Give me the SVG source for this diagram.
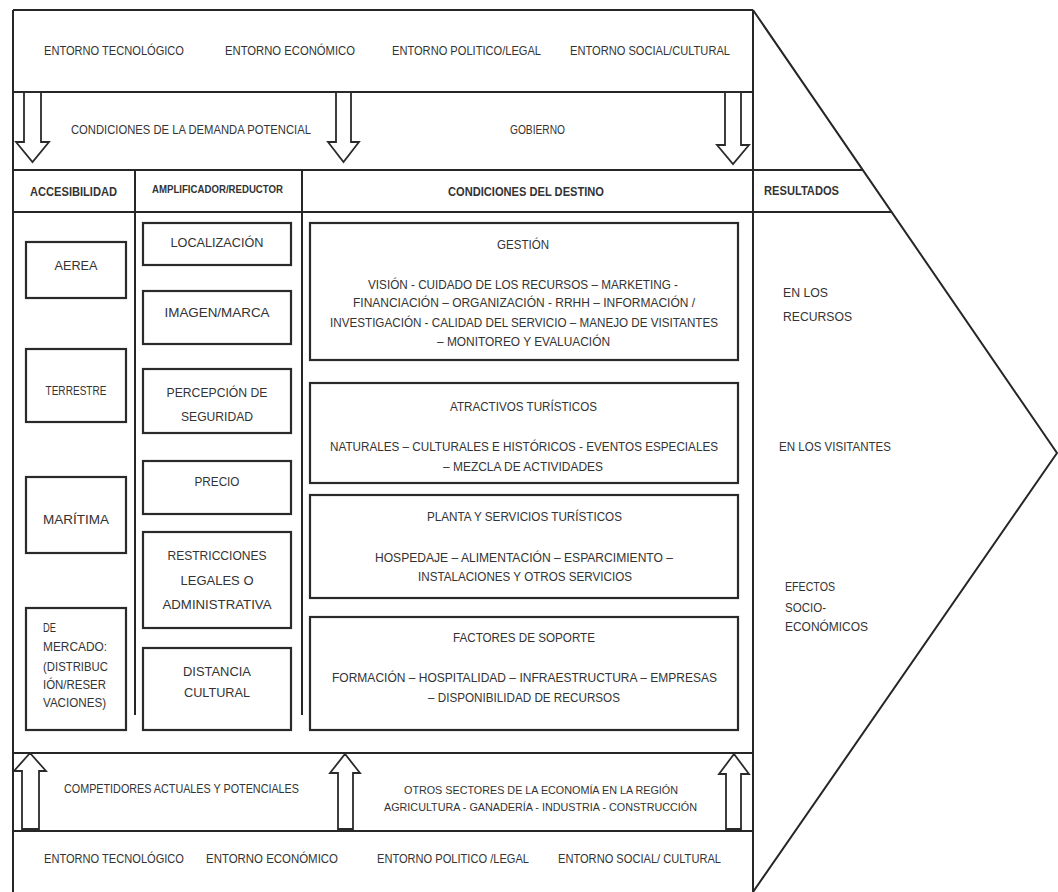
<svg xmlns="http://www.w3.org/2000/svg" width="1058" height="892" viewBox="0 0 1058 892">
<style>
.ln{stroke:#262626;stroke-width:2;fill:none}
.bx{stroke:#2a2a2a;stroke-width:2.2;fill:#fff}
.ar{stroke:#2a2a2a;stroke-width:1.8;fill:#fff;stroke-linejoin:miter}
text{font-family:"Liberation Sans",Arial,sans-serif;fill:#333}
.t12{font-size:12.5px}
.t13{font-size:13.5px}
.t11{font-size:12px}
.t10{font-size:10.5px}
.b{font-weight:bold}
.m{text-anchor:middle}
</style>
<rect x="0" y="0" width="1058" height="892" fill="#fff"/>
<g id="frame">
<polyline class="ln" points="753,10 1057,453 753,892"/>
<line class="ln" x1="13" y1="10" x2="753" y2="10"/>
<line class="ln" x1="13" y1="10" x2="13" y2="892"/>
<line class="ln" x1="753" y1="10" x2="753" y2="892"/>
<line class="ln" x1="13" y1="92" x2="753" y2="92"/>
<line class="ln" x1="13" y1="170" x2="863" y2="170"/>
<line class="ln" x1="13" y1="212" x2="891" y2="212"/>
<line class="ln" x1="13" y1="753" x2="753" y2="753"/>
<line class="ln" x1="13" y1="831" x2="753" y2="831"/>
<line class="ln" x1="135" y1="170" x2="135" y2="715"/>
<line class="ln" x1="302" y1="170" x2="302" y2="715"/>
</g>
<g id="entorno-top">
<text class="t12" x="44" y="55" textLength="140" lengthAdjust="spacingAndGlyphs">ENTORNO TECNOLÓGICO</text>
<text class="t12" x="225" y="55" textLength="130" lengthAdjust="spacingAndGlyphs">ENTORNO ECONÓMICO</text>
<text class="t12" x="392" y="55" textLength="149" lengthAdjust="spacingAndGlyphs">ENTORNO POLITICO/LEGAL</text>
<text class="t12" x="570" y="55" textLength="160" lengthAdjust="spacingAndGlyphs">ENTORNO SOCIAL/CULTURAL</text>
</g>
<g id="demanda">
<text class="t12" x="71" y="134" textLength="240" lengthAdjust="spacingAndGlyphs">CONDICIONES DE LA DEMANDA POTENCIAL</text>
<text class="t12" x="510" y="134" textLength="55" lengthAdjust="spacingAndGlyphs">GOBIERNO</text>
</g>
<g id="headers">
<text class="t12 b" x="30" y="196" textLength="87" lengthAdjust="spacingAndGlyphs">ACCESIBILIDAD</text>
<text class="t10 b" x="152" y="193" textLength="131" lengthAdjust="spacingAndGlyphs">AMPLIFICADOR/REDUCTOR</text>
<text class="t12 b" x="448" y="196" textLength="156" lengthAdjust="spacingAndGlyphs">CONDICIONES DEL DESTINO</text>
<text class="t12 b" x="764" y="195" textLength="75" lengthAdjust="spacingAndGlyphs">RESULTADOS</text>
</g>
<g id="aerea"><rect class="bx" x="26" y="242" width="100" height="56"/><text class="t13 m" x="76" y="270" textLength="43" lengthAdjust="spacingAndGlyphs">AEREA</text></g>
<g id="terrestre"><rect class="bx" x="26" y="349" width="100" height="73"/><text class="t12 m" x="76" y="395" textLength="61" lengthAdjust="spacingAndGlyphs">TERRESTRE</text></g>
<g id="maritima"><rect class="bx" x="26" y="477" width="100" height="76"/><text class="t13 m" x="76" y="524" textLength="66" lengthAdjust="spacingAndGlyphs">MARÍTIMA</text></g>
<g id="mercado"><rect class="bx" x="26" y="608" width="100" height="122"/>
<text class="t12" x="43" y="632" textLength="13" lengthAdjust="spacingAndGlyphs">DE</text>
<text class="t12" x="43" y="651" textLength="64" lengthAdjust="spacingAndGlyphs">MERCADO:</text>
<text class="t12" x="43" y="671" textLength="65" lengthAdjust="spacingAndGlyphs">(DISTRIBUC</text>
<text class="t12" x="43" y="689" textLength="63" lengthAdjust="spacingAndGlyphs">IÓN/RESER</text>
<text class="t12" x="43" y="707" textLength="63" lengthAdjust="spacingAndGlyphs">VACIONES)</text>
</g>
<g id="localizacion"><rect class="bx" x="143" y="223" width="148" height="42"/><text class="t13 m" x="217" y="247" textLength="93" lengthAdjust="spacingAndGlyphs">LOCALIZACIÓN</text></g>
<g id="imagen"><rect class="bx" x="143" y="291" width="148" height="53"/><text class="t13 m" x="217" y="317" textLength="105" lengthAdjust="spacingAndGlyphs">IMAGEN/MARCA</text></g>
<g id="percepcion"><rect class="bx" x="143" y="369" width="148" height="64"/>
<text class="t13 m" x="217" y="397" textLength="101" lengthAdjust="spacingAndGlyphs">PERCEPCIÓN DE</text>
<text class="t13 m" x="217" y="421" textLength="72" lengthAdjust="spacingAndGlyphs">SEGURIDAD</text></g>
<g id="precio"><rect class="bx" x="143" y="461" width="148" height="53"/><text class="t13 m" x="217" y="486" textLength="45" lengthAdjust="spacingAndGlyphs">PRECIO</text></g>
<g id="restricciones"><rect class="bx" x="143" y="532" width="148" height="96"/>
<text class="t13 m" x="217" y="560" textLength="99" lengthAdjust="spacingAndGlyphs">RESTRICCIONES</text>
<text class="t13 m" x="217" y="585" textLength="73" lengthAdjust="spacingAndGlyphs">LEGALES  O</text>
<text class="t13 m" x="217" y="609" textLength="109" lengthAdjust="spacingAndGlyphs">ADMINISTRATIVA</text></g>
<g id="distancia"><rect class="bx" x="143" y="648" width="148" height="82"/>
<text class="t13 m" x="217" y="676" textLength="68" lengthAdjust="spacingAndGlyphs">DISTANCIA</text>
<text class="t13 m" x="217" y="697" textLength="66" lengthAdjust="spacingAndGlyphs">CULTURAL</text></g>
<g id="gestion"><rect class="bx" x="310" y="223" width="428" height="137"/>
<text class="t11" x="497" y="249" textLength="52" lengthAdjust="spacingAndGlyphs">GESTIÓN</text>
<text class="t11" x="368" y="289" textLength="310" lengthAdjust="spacingAndGlyphs">VISIÓN  -  CUIDADO DE LOS RECURSOS  –  MARKETING  -</text>
<text class="t11" x="353" y="307" textLength="342" lengthAdjust="spacingAndGlyphs">FINANCIACIÓN  –  ORGANIZACIÓN  - RRHH  – INFORMACIÓN /</text>
<text class="t11" x="330" y="327" textLength="388" lengthAdjust="spacingAndGlyphs">INVESTIGACIÓN   -   CALIDAD DEL SERVICIO –  MANEJO DE VISITANTES</text>
<text class="t11" x="437" y="346" textLength="173" lengthAdjust="spacingAndGlyphs">– MONITOREO Y  EVALUACIÓN</text></g>
<g id="atractivos"><rect class="bx" x="310" y="383" width="428" height="100"/>
<text class="t11" x="450" y="411" textLength="147" lengthAdjust="spacingAndGlyphs">ATRACTIVOS TURÍSTICOS</text>
<text class="t11" x="330" y="451" textLength="388" lengthAdjust="spacingAndGlyphs">NATURALES – CULTURALES E HISTÓRICOS  -  EVENTOS ESPECIALES</text>
<text class="t11" x="443" y="471" textLength="160" lengthAdjust="spacingAndGlyphs">– MEZCLA DE ACTIVIDADES</text></g>
<g id="planta"><rect class="bx" x="310" y="495" width="428" height="103"/>
<text class="t11" x="427" y="521" textLength="195" lengthAdjust="spacingAndGlyphs">PLANTA Y SERVICIOS TURÍSTICOS</text>
<text class="t11" x="375" y="562" textLength="298" lengthAdjust="spacingAndGlyphs">HOSPEDAJE – ALIMENTACIÓN – ESPARCIMIENTO –</text>
<text class="t11" x="418" y="581" textLength="214" lengthAdjust="spacingAndGlyphs">INSTALACIONES Y OTROS SERVICIOS</text></g>
<g id="factores"><rect class="bx" x="310" y="617" width="428" height="113"/>
<text class="t11" x="453" y="642" textLength="142" lengthAdjust="spacingAndGlyphs">FACTORES  DE SOPORTE</text>
<text class="t11" x="332" y="682" textLength="385" lengthAdjust="spacingAndGlyphs">FORMACIÓN – HOSPITALIDAD – INFRAESTRUCTURA – EMPRESAS</text>
<text class="t11" x="428" y="702" textLength="192" lengthAdjust="spacingAndGlyphs">– DISPONIBILIDAD DE RECURSOS</text></g>
<g id="resultados">
<text class="t12" x="783" y="297" textLength="45" lengthAdjust="spacingAndGlyphs">EN LOS</text>
<text class="t12" x="783" y="321" textLength="69" lengthAdjust="spacingAndGlyphs">RECURSOS</text>
<text class="t12" x="779" y="451" textLength="112" lengthAdjust="spacingAndGlyphs">EN LOS VISITANTES</text>
<text class="t12" x="785" y="591" textLength="50" lengthAdjust="spacingAndGlyphs">EFECTOS</text>
<text class="t12" x="785" y="612" textLength="41" lengthAdjust="spacingAndGlyphs">SOCIO-</text>
<text class="t12" x="785" y="631" textLength="83" lengthAdjust="spacingAndGlyphs">ECONÓMICOS</text>
</g>
<g id="competidores">
<text class="t12" x="64" y="793" textLength="235" lengthAdjust="spacingAndGlyphs">COMPETIDORES ACTUALES Y POTENCIALES</text>
<text class="t10" x="404" y="794" textLength="274" lengthAdjust="spacingAndGlyphs">OTROS SECTORES DE LA ECONOMÍA   EN LA   REGIÓN</text>
<text class="t10" x="384" y="811" textLength="313" lengthAdjust="spacingAndGlyphs">AGRICULTURA  -  GANADERÍA -  INDUSTRIA - CONSTRUCCIÓN</text>
</g>
<g id="entorno-bottom">
<text class="t12" x="44" y="863" textLength="140" lengthAdjust="spacingAndGlyphs">ENTORNO TECNOLÓGICO</text>
<text class="t12" x="206" y="863" textLength="132" lengthAdjust="spacingAndGlyphs">ENTORNO ECONÓMICO</text>
<text class="t12" x="377" y="863" textLength="152" lengthAdjust="spacingAndGlyphs">ENTORNO POLITICO /LEGAL</text>
<text class="t12" x="558" y="863" textLength="163" lengthAdjust="spacingAndGlyphs">ENTORNO SOCIAL/ CULTURAL</text>
</g>
<g id="connectors">
<polygon class="ar" points="24,92 41,92 41,142 49,142 32.5,162 16,142 24,142"/>
<polygon class="ar" points="336,92 351,92 351,142 359,142 343.5,162 328,142 336,142"/>
<polygon class="ar" points="725,92 741,92 741,145 749,145 733,164 717,145 725,145"/>
<polygon class="ar" points="22,829 39,829 39,771 46,771 30,753 14,771 22,771"/>
<polygon class="ar" points="338,829 353,829 353,773 360,773 345,754 330,773 338,773"/>
<polygon class="ar" points="726,829 741,829 741,774 749,774 734,754 719,774 726,774"/>
</g>
</svg>
